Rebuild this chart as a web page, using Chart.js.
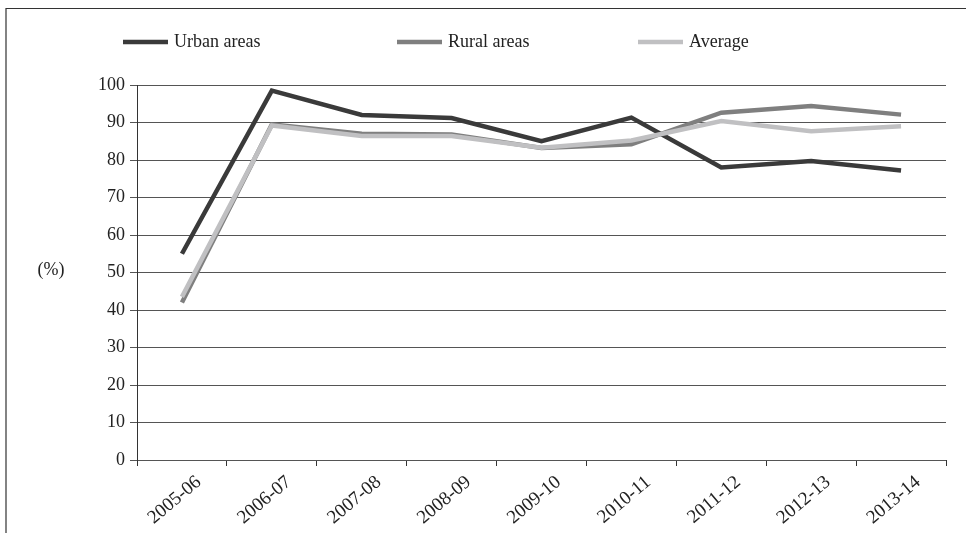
<!DOCTYPE html>
<html>
<head>
<meta charset="utf-8">
<script src="https://cdn.jsdelivr.net/npm/chart.js@4.4.0/dist/chart.umd.min.js"></script>
<style>
  html, body { margin: 0; padding: 0; background: #fff; }
  #wrap { position: relative; width: 966px; height: 533px; }
</style>
</head>
<body>
<div id="wrap"><canvas id="chart" width="966" height="533"></canvas></div>
<script>
const years = ['2005-06', '2006-07', '2007-08', '2008-09', '2009-10', '2010-11', '2011-12', '2012-13', '2013-14'];
const urban = [55, 98.5, 92, 91.2, 85, 91.3, 78, 79.7, 77.2];
const rural = [42, 89.5, 87, 86.8, 83.2, 84.2, 92.6, 94.4, 92.1];
const average = [43.5, 89.2, 86.4, 86.4, 83.3, 85.2, 90.4, 87.7, 89];
const seriesNames = ['Urban areas', 'Rural areas', 'Average'];
const seriesColors = ['#3a3a3a', '#7f7f7f', '#c0c0c2'];
const yTicks = [0, 10, 20, 30, 40, 50, 60, 70, 80, 90, 100];

const serif = '"Liberation Serif", "Times New Roman", serif';

// frame, legend and the "(%)" label
const decorations = {
  id: 'decorations',
  beforeDraw(chart) {
    const ctx = chart.ctx;
    ctx.save();
    ctx.strokeStyle = '#333';
    ctx.lineWidth = 1.2;
    ctx.beginPath();
    ctx.moveTo(6, 600);
    ctx.lineTo(6, 8.5);
    ctx.lineTo(1000, 8.5);
    ctx.stroke();
    ctx.restore();
  },
  afterDraw(chart) {
    const ctx = chart.ctx;
    const legendX = [123, 397, 638];
    ctx.save();
    ctx.font = '18px ' + serif;
    ctx.textBaseline = 'middle';
    seriesNames.forEach((name, i) => {
      ctx.strokeStyle = seriesColors[i];
      ctx.lineWidth = 4.5;
      ctx.beginPath();
      ctx.moveTo(legendX[i], 42);
      ctx.lineTo(legendX[i] + 45, 42);
      ctx.stroke();
      ctx.fillStyle = '#222';
      ctx.fillText(name, legendX[i] + 51, 42);
    });
    ctx.textAlign = 'center';
    ctx.fillText('(%)', 51, 270);
    ctx.restore();
  }
};

const datasets = [urban, rural, average].map((values, i) => ({
  label: seriesNames[i],
  data: values,
  borderColor: seriesColors[i],
  backgroundColor: seriesColors[i],
  borderWidth: 4.5,
  pointRadius: 0,
  tension: 0,
  order: 3 - i
}));

const ctx = document.getElementById('chart').getContext('2d');
new Chart(ctx, {
  type: 'line',
  data: { labels: years, datasets: datasets },
  options: {
    responsive: false,
    animation: false,
    layout: { padding: { top: 85, right: 20, left: 0, bottom: 0 } },
    plugins: {
      legend: { display: false },
      tooltip: { enabled: false }
    },
    scales: {
      x: {
        offset: true,
        afterFit: function(scale) { scale.height = 73; },
        grid: {
          offset: true,
          drawOnChartArea: false,
          drawTicks: true,
          tickLength: 6,
          color: '#333'
        },
        border: { display: false },
        ticks: {
          minRotation: 40,
          maxRotation: 40,
          labelOffset: 17,
          padding: 5,
          color: '#222',
          font: { family: serif, size: 19 }
        }
      },
      y: {
        min: 0,
        max: 100,
        afterFit: function(scale) { scale.width = 137; },
        afterBuildTicks: function(scale) {
          scale.ticks = yTicks.map(v => ({ value: v }));
        },
        grid: {
          color: '#555',
          lineWidth: 1,
          tickLength: 7
        },
        border: { display: true, color: '#333', width: 1 },
        ticks: {
          padding: 5,
          color: '#222',
          font: { family: serif, size: 18 }
        }
      }
    }
  },
  plugins: [decorations]
});
</script>
</body>
</html>
